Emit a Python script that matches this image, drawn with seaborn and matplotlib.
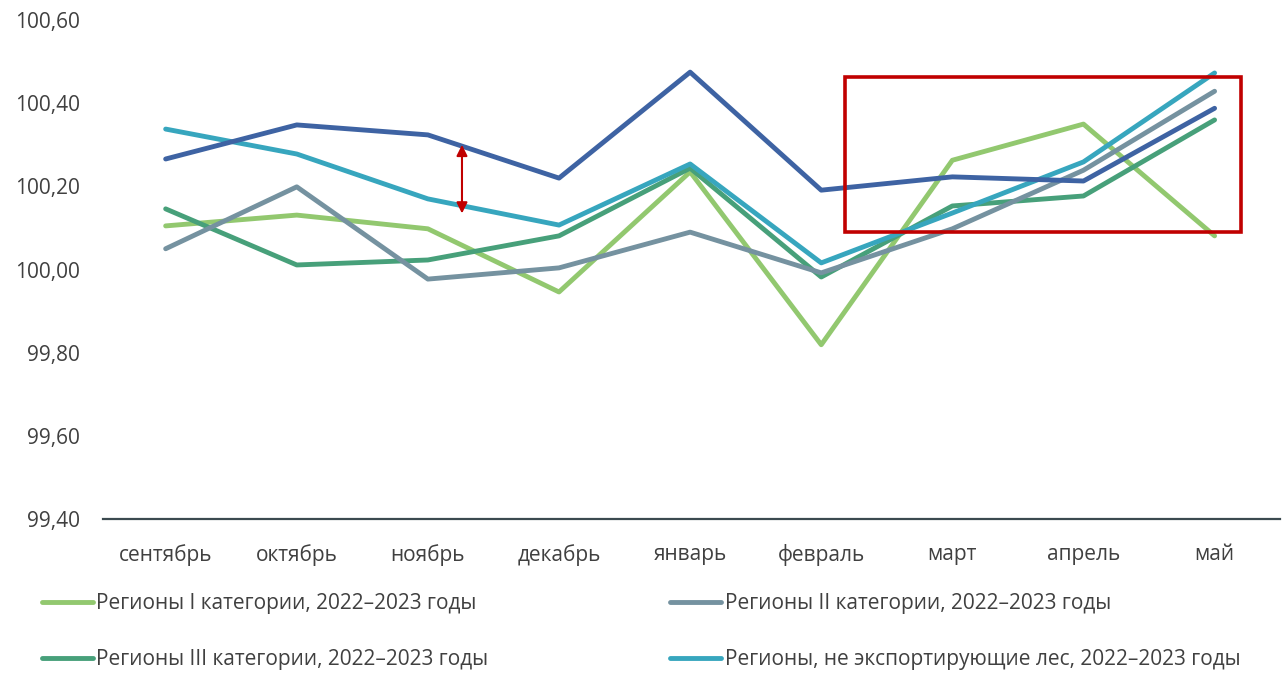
import matplotlib.pyplot as plt
import matplotlib.patches as patches
import pandas as pd
import seaborn as sns
from matplotlib.ticker import FuncFormatter, MultipleLocator

# -------------------------------------------------------
# Data
# -------------------------------------------------------

months = ["сентябрь", "октябрь", "ноябрь", "декабрь", "январь",
          "февраль", "март", "апрель", "май"]

region_1 = [100.105, 100.131, 100.098, 99.946, 100.235, 99.819, 100.263, 100.350, 100.081]
region_2 = [100.050, 100.199, 99.977, 100.004, 100.090, 99.992, 100.098, 100.239, 100.429]
region_3 = [100.146, 100.011, 100.023, 100.081, 100.244, 99.982, 100.153, 100.177, 100.360]
non_export = [100.338, 100.278, 100.170, 100.107, 100.254, 100.016, 100.136, 100.259, 100.473]
export = [100.266, 100.348, 100.324, 100.220, 100.475, 100.191, 100.223, 100.213, 100.388]

series_names = [
    "Регионы I категории, 2022–2023 годы",
    "Регионы III категории, 2022–2023 годы",
    "Регионы II категории, 2022–2023 годы",
    "Регионы, не экспортирующие лес, 2022–2023 годы",
    "Регионы, экспортирующие лес, 2022–2023 годы",
]
series_values = [region_1, region_3, region_2, non_export, export]
colors = ["#92C86F", "#47A07A", "#7592A0", "#37A6BE", "#3E63A3"]

# legend fills column by column: I, III | II, non-export
legend_order = [0, 1, 2, 3]

# -------------------------------------------------------
# Style
# -------------------------------------------------------

sns.set_theme(style="white")
plt.rcParams["font.family"] = ["Open Sans", "DejaVu Sans"]

rows = []
for name, values in zip(series_names, series_values):
    for i, v in enumerate(values):
        rows.append({"series": name, "idx": i, "value": v})
df = pd.DataFrame(rows)

fig = plt.figure(figsize=(12.84, 6.73), dpi=100)
ax = fig.add_axes([0.080, 0.229, 0.917, 0.741])

sns.lineplot(
    data=df,
    x="idx",
    y="value",
    hue="series",
    hue_order=series_names,
    palette=dict(zip(series_names, colors)),
    linewidth=3.5,
    sort=False,
    legend=False,
    ax=ax
)

ax.set_xlim(-0.48, 8.5)
ax.set_ylim(99.40, 100.60)
ax.yaxis.set_major_locator(MultipleLocator(0.2))
ax.yaxis.set_major_formatter(FuncFormatter(lambda v, p: f"{v:.2f}".replace(".", ",")))
ax.set_xticks(range(len(months)))
ax.set_xticklabels(months)
ax.set_xlabel("")
ax.set_ylabel("")

for side in ["top", "right", "left"]:
    ax.spines[side].set_visible(False)
ax.spines["bottom"].set_color("#3b4a50")
ax.spines["bottom"].set_linewidth(1.6)

ax.tick_params(axis="y", length=0, pad=16.5, labelsize=15, labelcolor="#404040")
ax.tick_params(axis="x", length=0, pad=18, labelsize=15, labelcolor="#404040")

# Annotations
red = "#C00000"
ax.add_patch(patches.Rectangle((5.18, 100.090), 3.02, 0.373,
                               fill=False, edgecolor=red, linewidth=2.6,
                               zorder=5, clip_on=False))
ax.annotate("", xy=(2.26, 100.30), xytext=(2.26, 100.135),
            arrowprops=dict(arrowstyle="<|-|>", color=red, lw=1.5,
                            mutation_scale=16, shrinkA=0, shrinkB=0))

# Legend (4 entries, two columns)
lines = ax.get_lines()
handles = [lines[i] for i in legend_order]
labels = [series_names[i] for i in legend_order]
fig.legend(
    handles, labels,
    ncol=2,
    loc="upper left",
    bbox_to_anchor=(0.018, 0.146),
    frameon=False,
    fontsize=15,
    labelcolor="#404040",
    handlelength=2.45,
    handletextpad=0.15,
    columnspacing=8.75,
    labelspacing=1.65,
)

fig.savefig("out.png", dpi=100)
